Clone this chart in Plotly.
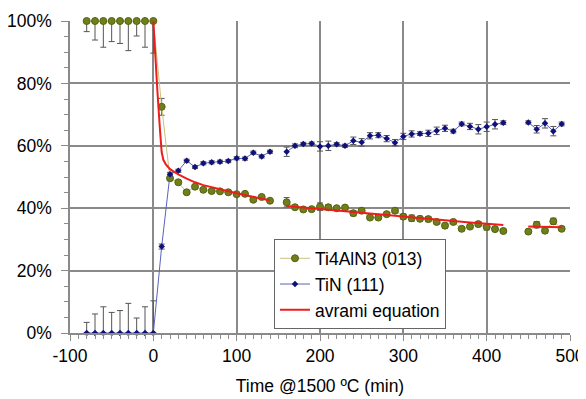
import plotly.graph_objects as go

# ---- data (time in min, fraction) ----
t_pre = [-80, -70, -60, -50, -40, -30, -20, -10, 0]
err_pre = [3.4, 6.1, 8.4, 6.6, 7.2, 9.5, 4.8, 8.4, 10.3]  # percent

time_main = [10, 20, 30, 40, 50, 60, 70, 80, 90, 100, 110, 120, 130, 140, None,
             160, 170, 180, 190, 200, 210, 220, 230, 240, 250, 260, 270, 280, 290,
             300, 310, 320, 330, 340, 350, 360, 370, 380, 390, 400, 410, 420, None,
             450, 460, 470, 480, 490]

ti4aln3_main = [72.5, 49.6, 48.3, 45.1, 46.9, 45.9, 45.5, 45.4, 45.1, 44.5, 44.6, 42.7, 43.6, 42.4, None,
                41.9, 40.3, 39.6, 39.7, 40.5, 40.3, 40.0, 40.2, 38.4, 39.2, 37.0, 37.0, 38.1, 39.2,
                37.3, 36.8, 36.6, 36.5, 35.6, 34.4, 35.6, 33.4, 34.1, 34.9, 34.0, 33.3, 32.7, None,
                32.5, 34.7, 32.8, 35.8, 33.4]
ti4aln3_err = [2.7, 0.6, 0.6, 0.5, 0.5, 0.5, 0.5, 0.5, 0.5, 0.5, 0.5, 0.5, 0.5, 0.5, None,
               1.5, 0.6, 0.5, 0.5, 1.2, 0.8, 0.5, 0.5, 0.8, 0.6, 0.5, 0.5, 0.5, 0.6,
               0.8, 1.0, 0.8, 0.8, 0.6, 0.8, 0.5, 0.6, 0.5, 0.8, 1.0, 0.8, 0.6, None,
               0.5, 1.0, 0.8, 1.0, 0.6]

tin_main = [27.7, 50.9, 52.0, 55.2, 53.2, 54.4, 54.7, 54.9, 55.1, 56.0, 55.9, 57.8, 56.6, 58.1, None,
            58.1, 60.0, 60.6, 60.7, 59.8, 60.0, 60.5, 60.0, 61.6, 61.1, 63.2, 63.4, 62.3, 61.0,
            63.0, 63.8, 63.9, 64.0, 64.8, 65.6, 64.7, 67.0, 66.2, 65.3, 66.1, 66.9, 67.4, None,
            67.5, 65.3, 67.2, 64.7, 67.0]
tin_err = [0.8, 0.6, 0.5, 0.5, 0.5, 0.5, 0.5, 0.5, 0.5, 0.5, 0.5, 0.5, 0.5, 0.5, None,
           1.5, 0.6, 0.5, 0.5, 1.5, 1.5, 0.5, 0.5, 1.2, 1.2, 1.0, 0.8, 1.0, 1.0,
           1.0, 1.0, 0.6, 1.0, 1.2, 1.0, 0.6, 0.6, 1.0, 1.5, 1.5, 1.5, 0.6, None,
           0.5, 1.2, 1.5, 1.5, 0.6]

avrami_t = [0, 2, 5, 8, 10, 12, 15, 20, 30, 40, 50, 60, 70, 80, 90, 100, 110, 120, 130, 140, None,
            160, 180, 200, 220, 240, 260, 280, 300, 320, 340, 360, 380, 400, 420, None,
            450, 470, 490]
avrami_v = [100, 90, 77, 65, 58, 55.5, 54, 52.5, 50.8, 49.5, 48.3, 47.4, 46.7, 46.0, 45.4, 44.8, 44.2, 43.6, 43.0, 42.5, None,
            40.7, 40.2, 39.7, 39.2, 38.7, 38.2, 37.8, 37.3, 36.8, 36.3, 35.8, 35.4, 35.0, 34.6, None,
            34.1, 34.0, 33.9]

x_ticks = [-100, 0, 100, 200, 300, 400, 500]
x_tick_labels = ["-100", "0", "100", "200", "300", "400", "500"]
y_ticks = [0, 0.2, 0.4, 0.6, 0.8, 1.0]
y_tick_labels = ["0%", "20%", "40%", "60%", "80%", "100%"]

def frac(v):
    return [None if a is None else a / 100 for a in v]

# assemble series
g_x = t_pre + time_main
g_y = frac([100] * len(t_pre) + ti4aln3_main)
g_em = frac(err_pre + ti4aln3_err)
g_ep = frac([0] * len(t_pre) + ti4aln3_err)

b_x = t_pre + time_main
b_y = frac([0] * len(t_pre) + tin_main)
b_ep = frac(err_pre + tin_err)
b_em = frac([0] * len(t_pre) + tin_err)

font = "Liberation Sans, Arial, sans-serif"
grid = "#8a8a8a"
fs = 17.5

fig = go.Figure()
fig.add_trace(go.Scatter(
    x=g_x, y=g_y, mode="lines+markers", name="Ti4AlN3 (013)",
    line=dict(color="#c9c27a", width=1),
    marker=dict(symbol="circle", size=7, color="#6f7f1c", line=dict(color="#55620f", width=1)),
    error_y=dict(type="data", symmetric=False, array=g_ep, arrayminus=g_em,
                 color="#555555", thickness=1, width=3),
    cliponaxis=False, connectgaps=False))
fig.add_trace(go.Scatter(
    x=b_x, y=b_y, mode="lines+markers", name="TiN (111)",
    line=dict(color="#5a64b8", width=1),
    marker=dict(symbol="diamond", size=5, color="#10107a", line=dict(color="#10107a", width=0)),
    error_y=dict(type="data", symmetric=False, array=b_ep, arrayminus=b_em,
                 color="#555555", thickness=1, width=3),
    cliponaxis=False, connectgaps=False))
fig.add_trace(go.Scatter(
    x=avrami_t, y=frac(avrami_v), mode="lines", name="avrami equation",
    line=dict(color="#ee1c1c", width=2), connectgaps=False))

# page body has an 8px margin, so the figure is sized to fit the 586x399 window
fig.update_layout(
    width=578, height=391,
    margin=dict(l=62, r=16, t=13, b=66, autoexpand=False),
    paper_bgcolor="white", plot_bgcolor="white",
    font=dict(family=font, size=fs, color="black"),
    showlegend=True,
    legend=dict(x=0.408, y=0.30, xanchor="left", yanchor="top",
                bgcolor="white", bordercolor="#666666", borderwidth=1,
                font=dict(family=font, size=fs, color="black"),
                tracegroupgap=0, itemwidth=30),
    xaxis=dict(range=[-100, 500], tickvals=x_ticks, ticktext=x_tick_labels, automargin=False,
               showgrid=True, gridcolor=grid, gridwidth=1.5,
               showline=True, linecolor=grid, linewidth=1.5, zeroline=False,
               ticks="outside", ticklen=6, tickcolor=grid,
               minor=dict(dtick=10, ticks="outside", ticklen=4, tickcolor=grid, showgrid=False),
               title=dict(text="Time @1500 ºC (min)", font=dict(size=fs), standoff=15),
               tickfont=dict(size=fs)),
    yaxis=dict(range=[0, 1], tickvals=y_ticks, ticktext=y_tick_labels, showgrid=True, automargin=False,
               gridcolor=grid, gridwidth=1.5, showline=True, linecolor=grid, linewidth=1.5,
               zeroline=False, ticks="outside", ticklen=7, tickcolor=grid,
               ticklabelstandoff=6,
               minor=dict(dtick=0.05, ticks="outside", ticklen=4, tickcolor=grid, showgrid=False),
               tickfont=dict(size=fs)),
)

fig.write_html("out.html")
